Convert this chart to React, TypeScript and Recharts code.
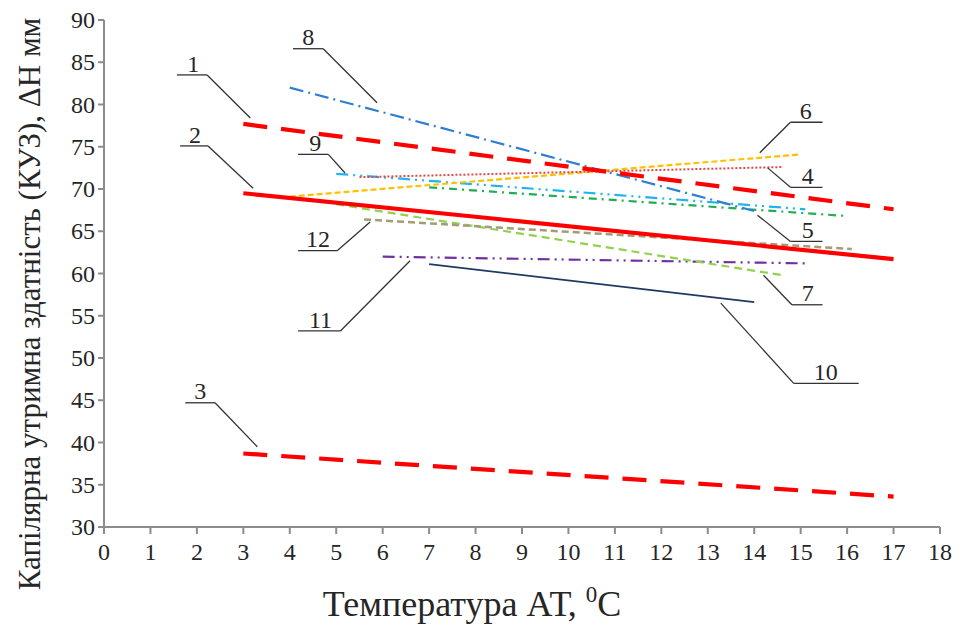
import { LineChart, Line, XAxis, YAxis, ReferenceLine, ReferenceDot } from 'recharts'

// axis ticks
const X_TICKS = [0, 1, 2, 3, 4, 5, 6, 7, 8, 9, 10, 11, 12, 13, 14, 15, 16, 17, 18]
const Y_TICKS = [30, 35, 40, 45, 50, 55, 60, 65, 70, 75, 80, 85, 90]

// [temperature AT, ΔH mm]
const curve1: [number, number][] = [[3, 77.7], [17, 67.6]]
const curve2: [number, number][] = [[3, 69.5], [17, 61.7]]
const curve3: [number, number][] = [[3, 38.7], [17, 33.6]]
const curve4: [number, number][] = [[5.5, 71.4], [14.6, 72.6]]
const curve5: [number, number][] = [[7, 70.2], [16, 66.8]]
const curve6: [number, number][] = [[4, 69.1], [15, 74.1]]
const curve7: [number, number][] = [[5, 68.2], [14.6, 59.8]]
const curve8: [number, number][] = [[4, 82.0], [14, 67.4]]
const curve9: [number, number][] = [[5, 71.8], [15.1, 67.6]]
const curve10: [number, number][] = [[7, 61.1], [14, 56.6]]
const curve11: [number, number][] = [[6, 62.0], [15.1, 61.2]]
const curve12: [number, number][] = [[5.6, 66.4], [16.1, 62.9]]

const toPts = (c: [number, number][]) => c.map(([x, y]) => ({ x, y }))

const SERIES = [
  { id: 's10', data: curve10, stroke: '#1F3864', width: 1.8, dash: undefined },
  { id: 's11', data: curve11, stroke: '#7030A0', width: 2.2, dash: '12 5 2 5 2 5' },
  { id: 's7', data: curve7, stroke: '#92D050', width: 2.2, dash: '8 5' },
  { id: 's12', data: curve12, stroke: '#A39C75', width: 2.5, dash: '7 4' },
  { id: 's5', data: curve5, stroke: '#1FAE55', width: 2.2, dash: '8 5 2 5' },
  { id: 's9', data: curve9, stroke: '#22B4EE', width: 2.2, dash: '12 5 2 5 2 5' },
  { id: 's6', data: curve6, stroke: '#FFC000', width: 2.2, dash: '6 3' },
  { id: 's4', data: curve4, stroke: '#E04848', width: 2, dash: '2 2' },
  { id: 's8', data: curve8, stroke: '#2E7FD0', width: 2.2, dash: '14 5 2 5' },
  { id: 's1', data: curve1, stroke: '#FF0000', width: 4.2, dash: '24 14' },
  { id: 's2', data: curve2, stroke: '#FF0000', width: 4.2, dash: undefined },
  { id: 's3', data: curve3, stroke: '#FF0000', width: 4.2, dash: '24 14' },
]

// curve numbers with their leader lines (data coords)
const NOTES: { label: string; at: [number, number]; leader: [number, number][] }[] = [
  { label: '1', at: [1.92, 84.9], leader: [[1.57, 83.5], [2.22, 83.5], [3.15, 78.4]] },
  { label: '2', at: [1.96, 76.5], leader: [[1.64, 75.1], [2.24, 75.1], [3.21, 70.1]] },
  { label: '3', at: [2.07, 46.1], leader: [[1.75, 44.7], [2.39, 44.7], [3.3, 39.5]] },
  { label: '8', at: [4.4, 88.0], leader: [[4.07, 86.6], [4.72, 86.6], [5.88, 80.2]] },
  { label: '9', at: [4.55, 75.5], leader: [[4.18, 74.1], [4.83, 74.1], [5.19, 71.9]] },
  { label: '6', at: [15.11, 79.3], leader: [[15.47, 77.9], [14.78, 77.9], [14.12, 74.3]] },
  { label: '4', at: [15.15, 71.6], leader: [[15.47, 70.2], [14.78, 70.2], [14.29, 72.5]] },
  { label: '5', at: [15.15, 65.2], leader: [[15.47, 63.8], [14.78, 63.8], [14.07, 66.9]] },
  { label: '7', at: [15.15, 57.7], leader: [[15.47, 56.3], [14.81, 56.3], [14.2, 59.8]] },
  { label: '10', at: [15.54, 48.4], leader: [[16.25, 47.0], [14.85, 47.0], [13.28, 56.5]] },
  { label: '11', at: [4.66, 54.6], leader: [[4.18, 53.2], [5.09, 53.2], [6.59, 61.5]] },
  { label: '12', at: [4.61, 64.1], leader: [[4.18, 62.7], [5.02, 62.7], [5.73, 66.1]] },
]

const FONT = '"Times New Roman", "Liberation Serif", serif'
const AXIS = '#8C8C8C'
const INK = '#262626'

const XTick = ({ x, y, payload }: any) => (
  <text x={x} y={y + 22} textAnchor="middle" fontFamily={FONT} fontSize={24} fill={INK}>
    {payload.value}
  </text>
)

const YTick = ({ x, y, payload }: any) => (
  <text x={x} y={y} dy={8} textAnchor="end" fontFamily={FONT} fontSize={24} fill={INK}>
    {payload.value}
  </text>
)

const YTitle = () => (
  <text
    x={21}
    y={296}
    transform="rotate(-90 21 296)"
    textAnchor="middle"
    dominantBaseline="central"
    fontFamily={FONT}
    fontSize={31}
    fill={INK}
  >
    Капілярна утримна здатність (КУЗ), ΔН мм
  </text>
)

const XTitle = () => (
  <text x={464} y={608} textAnchor="middle" fontFamily={FONT} fontSize={36} fill={INK}>
    Температура АТ,{' '}
    <tspan fontSize={23} dy={-14}>0</tspan>
    <tspan dy={14}>C</tspan>
  </text>
)

export default function App() {
  return (
    <LineChart
      width={947}
      height={616}
      margin={{ top: 12, right: 15, left: 0, bottom: 7 }}
      style={{ fontFamily: FONT }}
    >
      <XAxis
        type="number"
        dataKey="x"
        domain={[0, 18]}
        ticks={X_TICKS}
        interval={0}
        height={90}
        stroke={AXIS}
        strokeWidth={2}
        tickSize={7}
        tickMargin={4}
        tick={<XTick />}
        label={<XTitle />}
      />
      <YAxis
        type="number"
        domain={[30, 90]}
        ticks={Y_TICKS}
        interval={0}
        width={96}
        stroke={AXIS}
        strokeWidth={2}
        tickSize={6}
        tickMargin={3}
        tick={<YTick />}
        label={<YTitle />}
      />
      {SERIES.map((s) => (
        <Line
          key={s.id}
          data={toPts(s.data)}
          dataKey="y"
          stroke={s.stroke}
          strokeWidth={s.width}
          strokeDasharray={s.dash}
          dot={false}
          activeDot={false}
          isAnimationActive={false}
        />
      ))}
      {NOTES.flatMap((n) =>
        n.leader.slice(1).map((p, i) => (
          <ReferenceLine
            key={`${n.label}-${i}`}
            segment={[
              { x: n.leader[i][0], y: n.leader[i][1] },
              { x: p[0], y: p[1] },
            ]}
            stroke="#333333"
            strokeWidth={1.3}
            ifOverflow="visible"
          />
        ))
      )}
      {NOTES.map((n) => (
        <ReferenceDot
          key={`lbl-${n.label}`}
          x={n.at[0]}
          y={n.at[1]}
          r={0}
          fill="none"
          stroke="none"
          ifOverflow="visible"
          label={{ value: n.label, position: 'center', fontFamily: FONT, fontSize: 24, fill: INK }}
        />
      ))}
    </LineChart>
  )
}
